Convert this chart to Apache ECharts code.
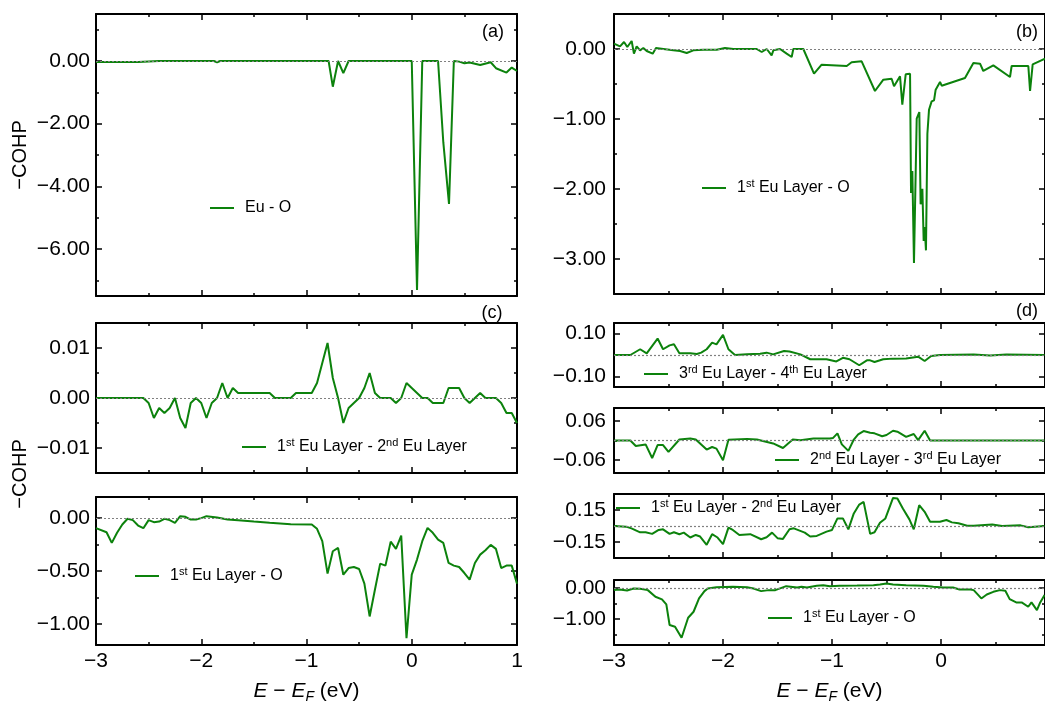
<!DOCTYPE html>
<html>
<head>
<meta charset="utf-8">
<title>COHP</title>
<script src="https://cdn.jsdelivr.net/npm/echarts@6/dist/echarts.min.js"></script>
<style>
  html, body { margin: 0; padding: 0; background: #fff; }
  #chart { width: 1045px; height: 702px; }
</style>
</head>
<body>
<div id="chart"></div>
<script>
// ---- data (E - E_F in eV, -COHP) ----
var aE = [-3, -2.6, -2.4, -1.88, -1.85, -1.82, -0.79, -0.75, -0.70, -0.65, -0.60, 0.0, 0.05, 0.10, 0.25, 0.30, 0.354, 0.40, 0.45, 0.50, 0.55, 0.65, 0.75, 0.80, 0.90, 0.95, 1.0];
var aV = [-0.03, -0.03, 0, 0, -0.04, 0, 0, -0.82, 0, -0.39, 0, 0, -7.31, 0, 0, -2.6, -4.56, 0, -0.02, -0.07, -0.05, -0.13, -0.04, -0.23, -0.37, -0.21, -0.32];

var bE = [-3.0, -2.945, -2.908, -2.878, -2.838, -2.817, -2.792, -2.761, -2.731, -2.70, -2.645, -2.615, -2.547, -2.456, -2.394, -2.333, -2.272, -2.18, -2.058, -1.982, -1.905, -1.783, -1.691, -1.645, -1.599, -1.554, -1.538, -1.477, -1.416, -1.37, -1.355, -1.263, -1.165, -1.095, -0.865, -0.82, -0.728, -0.606, -0.529, -0.453, -0.431, -0.376, -0.355, -0.324, -0.284, -0.275, -0.263, -0.248, -0.223, -0.211, -0.199, -0.187, -0.171, -0.159, -0.15, -0.138, -0.125, -0.11, -0.086, -0.064, -0.049, -0.009, 0.006, 0.22, 0.297, 0.358, 0.388, 0.48, 0.633, 0.648, 0.801, 0.817, 0.841, 0.954];
var bV = [0.076, 0.038, 0.1, 0.029, 0.114, -0.067, 0.038, -0.019, 0.014, -0.029, -0.067, 0.014, 0, -0.019, -0.029, -0.057, -0.019, -0.01, -0.01, 0.014, 0, 0, 0, -0.043, 0, -0.09, -0.019, 0, -0.067, -0.114, 0, 0, -0.352, -0.224, -0.243, -0.19, -0.176, -0.6, -0.438, -0.424, -0.533, -0.39, -0.795, -0.362, -0.352, -2.057, -1.743, -3.057, -0.995, -1.019, -0.9, -2.219, -1.995, -2.743, -2.543, -2.876, -1.21, -0.867, -0.748, -0.733, -0.581, -0.471, -0.524, -0.414, -0.2, -0.21, -0.314, -0.233, -0.4, -0.243, -0.243, -0.6, -0.219, -0.138];

var c1E = [-3, -2.55, -2.5, -2.45, -2.4, -2.35, -2.3, -2.25, -2.2, -2.15, -2.1, -2.05, -2.0, -1.95, -1.9, -1.85, -1.8, -1.75, -1.7, -1.65, -1.35, -1.3, -1.15, -1.1, -0.95, -0.9, -0.85, -0.8, -0.75, -0.7, -0.65, -0.6, -0.55, -0.5, -0.45, -0.4, -0.35, -0.3, -0.2, -0.15, -0.1, -0.05, 0, 0.05, 0.1, 0.15, 0.2, 0.3, 0.35, 0.45, 0.5, 0.55, 0.65, 0.7, 0.8, 0.85, 0.9, 0.95, 1.0];
var c1V = [0, 0, -0.001, -0.004, -0.002, -0.003, -0.002, 0, -0.004, -0.006, -0.001, 0, -0.001, -0.004, -0.001, 0, 0.003, 0, 0.002, 0.001, 0.001, 0, 0, 0.001, 0.001, 0.003, 0.007, 0.011, 0.004, 0, -0.005, -0.002, -0.001, 0, 0.002, 0.005, 0.001, 0, 0, -0.001, 0, 0.003, 0.002, 0.001, 0, 0, -0.001, -0.001, 0.002, 0.002, 0, -0.001, 0.001, 0, 0, -0.001, -0.003, -0.003, -0.005];

var c2E = [-3, -2.9, -2.85, -2.8, -2.75, -2.7, -2.65, -2.6, -2.55, -2.5, -2.45, -2.4, -2.35, -2.3, -2.25, -2.2, -2.15, -2.1, -2.05, -2.0, -1.95, -1.85, -1.75, -1.65, -1.5, -1.35, -1.15, -0.95, -0.9, -0.85, -0.8, -0.75, -0.7, -0.65, -0.6, -0.55, -0.5, -0.45, -0.4, -0.35, -0.3, -0.25, -0.2, -0.15, -0.1, -0.05, 0, 0.05, 0.1, 0.15, 0.2, 0.25, 0.3, 0.35, 0.4, 0.45, 0.5, 0.55, 0.6, 0.65, 0.7, 0.75, 0.8, 0.85, 0.9, 0.95, 1.0];
var c2V = [-0.095, -0.133, -0.234, -0.139, -0.06, -0.006, -0.019, -0.07, -0.095, -0.019, -0.038, -0.032, -0.006, -0.019, -0.044, 0.019, 0.013, -0.013, -0.013, 0, 0.019, 0.006, -0.013, -0.019, -0.032, -0.044, -0.057, -0.06, -0.101, -0.218, -0.525, -0.313, -0.282, -0.535, -0.472, -0.462, -0.481, -0.62, -0.93, -0.677, -0.43, -0.449, -0.222, -0.291, -0.165, -1.136, -0.535, -0.392, -0.218, -0.092, -0.139, -0.203, -0.234, -0.424, -0.449, -0.462, -0.519, -0.582, -0.424, -0.345, -0.304, -0.253, -0.291, -0.472, -0.449, -0.449, -0.62];

var d1E = [-3, -2.85, -2.76, -2.70, -2.60, -2.55, -2.49, -2.45, -2.40, -2.30, -2.24, -2.20, -2.15, -2.10, -2.06, -2.00, -1.95, -1.89, -1.78, -1.66, -1.60, -1.54, -1.44, -1.39, -1.29, -1.20, -1.05, -0.96, -0.90, -0.84, -0.75, -0.68, -0.65, -0.61, -0.53, -0.44, -0.32, -0.21, -0.15, -0.09, -0.01, 0.30, 0.45, 0.60, 0.95];
var d1V = [0, 0, 0.027, 0.008, 0.077, 0.027, 0.045, 0.05, 0.008, 0.008, 0.005, 0.011, 0.027, 0.058, 0.05, 0.094, 0.027, 0, 0.003, 0.006, 0.011, 0.003, 0.019, 0.016, 0.003, -0.02, -0.02, -0.03, -0.013, -0.02, -0.048, -0.025, -0.025, -0.033, -0.02, -0.017, -0.016, -0.008, -0.028, -0.005, 0, 0.002, -0.002, 0.002, 0];

var d2E = [-3, -2.85, -2.80, -2.71, -2.65, -2.60, -2.55, -2.50, -2.40, -2.30, -2.25, -2.15, -2.10, -2.06, -2.00, -1.95, -1.78, -1.69, -1.54, -1.45, -1.36, -1.29, -1.17, -1.02, -0.99, -0.95, -0.91, -0.85, -0.80, -0.76, -0.71, -0.65, -0.61, -0.54, -0.50, -0.44, -0.40, -0.32, -0.25, -0.21, -0.15, -0.10, 0.95];
var d2V = [0, 0, -0.017, -0.012, -0.054, -0.014, -0.014, -0.035, 0.003, 0.006, 0.003, -0.028, -0.02, -0.025, -0.061, 0.002, 0.005, 0.003, -0.009, -0.023, 0.003, 0.001, 0.006, 0.006, 0.008, 0.022, -0.012, -0.032, 0.003, 0.019, 0.029, 0.024, 0.022, 0.013, 0.017, 0.03, 0.027, 0.011, 0.02, 0.001, 0.03, 0, 0];

var d3E = [-3, -2.89, -2.84, -2.76, -2.71, -2.65, -2.59, -2.55, -2.49, -2.45, -2.40, -2.36, -2.30, -2.25, -2.21, -2.15, -2.10, -2.05, -2.00, -1.95, -1.91, -1.85, -1.75, -1.65, -1.60, -1.55, -1.50, -1.45, -1.39, -1.35, -1.25, -1.20, -1.14, -1.05, -1.00, -0.95, -0.90, -0.85, -0.80, -0.75, -0.71, -0.65, -0.61, -0.56, -0.51, -0.44, -0.40, -0.35, -0.29, -0.25, -0.20, -0.15, -0.10, -0.01, 0.05, 0.10, 0.16, 0.24, 0.30, 0.47, 0.56, 0.73, 0.80, 0.86, 0.95];
var d3V = [0, -0.006, -0.022, -0.059, -0.059, -0.074, -0.037, -0.031, -0.074, -0.059, -0.077, -0.062, -0.108, -0.084, -0.099, -0.176, -0.077, -0.108, -0.17, -0.015, -0.037, -0.084, -0.077, -0.124, -0.105, -0.062, -0.114, -0.121, -0.031, -0.022, -0.062, -0.099, -0.093, -0.053, -0.037, 0.071, 0.071, -0.031, 0.118, 0.201, 0.226, -0.074, -0.059, 0.031, 0.071, 0.263, 0.257, 0.164, 0.062, -0.031, 0.195, 0.133, 0.04, 0.04, 0.056, 0.034, 0.025, 0.003, 0.003, 0.015, 0, 0.006, -0.012, -0.006, 0];

var d4E = [-3, -2.95, -2.88, -2.82, -2.76, -2.69, -2.62, -2.56, -2.52, -2.49, -2.44, -2.38, -2.32, -2.27, -2.22, -2.17, -2.14, -2.06, -1.91, -1.78, -1.72, -1.65, -1.58, -1.52, -1.42, -1.32, -1.28, -1.23, -1.14, -1.08, -1.02, -0.93, -0.77, -0.62, -0.56, -0.50, -0.44, -0.32, -0.16, -0.07, 0.02, 0.11, 0.17, 0.27, 0.30, 0.37, 0.42, 0.48, 0.54, 0.59, 0.63, 0.69, 0.74, 0.80, 0.83, 0.88, 0.91, 0.95];
var d4V = [-0.074, -0.053, -0.085, -0.021, -0.032, -0.074, -0.287, -0.372, -0.532, -1.191, -1.245, -1.596, -0.957, -0.766, -0.34, -0.106, -0.021, 0.021, 0.032, 0.021, -0.021, -0.106, -0.074, -0.074, 0.053, 0.011, 0.032, 0.011, 0.064, 0.085, 0.053, 0.064, 0.074, 0.085, 0.106, 0.138, 0.106, 0.085, 0.064, 0.032, 0.011, 0.011, -0.053, -0.053, -0.074, -0.34, -0.213, -0.128, -0.074, -0.096, -0.362, -0.468, -0.468, -0.606, -0.468, -0.713, -0.468, -0.234];

var xMajorL = [-3, -2, -1, 0, 1];
var xMajorR = [-3, -2, -1, 0];
var xMinor = [-2.5, -1.5, -0.5, 0.5];

// ---- layout of the eight panels ----
var green = '#0c820c';
var font = '"Liberation Sans", Arial, Helvetica, sans-serif';

var panels = [
    { key: 'a', E: aE, V: aV, box: [96, 14, 421, 282], xMax: 1, y: [-7.5, 1.5], yMajor: [0, -2, -4, -6], yMinor: [1, -1, -3, -5, -7], margin: 6, legend: [210, 198], label: 'Eu - O' },
    { key: 'b', E: bE, V: bV, box: [614, 14, 431, 280], xMax: 0.954, y: [-3.5, 0.5], yMajor: [0, -1, -2, -3], yMinor: [-0.5, -1.5, -2.5], margin: 8, legend: [702, 178], label: '1{sup|st} Eu Layer - O' },
    { key: 'c1', E: c1E, V: c1V, box: [96, 323, 421, 150], xMax: 1, y: [-0.015, 0.015], yMajor: [0.01, 0, -0.01], yMinor: [0.005, -0.005], margin: 6, legend: [242, 437], label: '1{sup|st} Eu Layer - 2{sup|nd} Eu Layer' },
    { key: 'c2', E: c2E, V: c2V, box: [96, 497, 421, 148], xMax: 1, y: [-1.2, 0.2], yMajor: [0, -0.5, -1], yMinor: [-0.25, -0.75], margin: 6, legend: [135, 566], label: '1{sup|st} Eu Layer - O', xLabels: true },
    { key: 'd1', E: d1E, V: d1V, box: [614, 323, 431, 64], xMax: 0.954, y: [-0.15, 0.15], yMajor: [0.1, -0.1], yMinor: [0], margin: 8, legend: [644, 364], label: '3{sup|rd} Eu Layer - 4{sup|th} Eu Layer' },
    { key: 'd2', E: d2E, V: d2V, box: [614, 408, 431, 65], xMax: 0.954, y: [-0.1, 0.1], yMajor: [0.06, -0.06], yMinor: [0], margin: 8, legend: [775, 450], label: '2{sup|nd} Eu Layer - 3{sup|rd} Eu Layer' },
    { key: 'd3', E: d3E, V: d3V, box: [614, 494, 431, 64], xMax: 0.954, y: [-0.3, 0.3], yMajor: [0.15, -0.15], yMinor: [0], margin: 8, legend: [616, 498], label: '1{sup|st} Eu Layer - 2{sup|nd} Eu Layer' },
    { key: 'd4', E: d4E, V: d4V, box: [614, 580, 431, 65], xMax: 0.954, y: [-1.83, 0.25], yMajor: [0, -1], yMinor: [-0.5, -1.5], margin: 8, legend: [768, 608], label: '1{sup|st} Eu Layer - O', xLabels: true }
];

function fmt(dec) {
    return function (v) {
        return (v < 0 ? '\u2212' : '') + Math.abs(v).toFixed(dec);
    };
}

function makeAxis(gi, pos, range, ticks, len, showLine, labels, formatter, margin) {
    return {
        type: 'value', gridIndex: gi, position: pos, min: range[0], max: range[1],
        axisLine: { show: showLine, onZero: false, lineStyle: { color: '#000', width: 2 } },
        axisTick: { show: true, inside: true, length: len, customValues: ticks, lineStyle: { color: '#000', width: 1.5 } },
        axisLabel: labels ? { show: true, customValues: labels, formatter: formatter, margin: margin, color: '#000', fontSize: 21, fontFamily: font } : { show: false },
        splitLine: { show: false },
        minorTick: { show: false }
    };
}

var grids = [], xAxes = [], yAxes = [], series = [], legends = [];

panels.forEach(function (p, i) {
    grids.push({ left: p.box[0], top: p.box[1], width: p.box[2], height: p.box[3], containLabel: false, outerBoundsMode: 'none' });

    var xr = [-3, p.xMax];
    var xMaj = p.xMax >= 1 ? xMajorL : xMajorR;
    var xb = makeAxis(i, 'bottom', xr, xMaj, 6, true, p.xLabels ? xMaj : null, fmt(0), 6);
    if (p.xLabels) {
        xb.name = '{i|E} \u2212 {i|E}{s|F} (eV)';
        xb.nameLocation = 'middle';
        xb.nameGap = 33;
        xb.nameTextStyle = {
            color: '#000', fontSize: 21, fontFamily: font, lineHeight: 26,
            rich: {
                i: { fontStyle: 'italic', fontSize: 21, fontFamily: font, lineHeight: 26 },
                s: { fontStyle: 'italic', fontSize: 14, fontFamily: font, lineHeight: 14, verticalAlign: 'bottom' }
            }
        };
    }
    xAxes.push(xb);
    xAxes.push(makeAxis(i, 'bottom', xr, xMinor, 3, false));
    xAxes.push(makeAxis(i, 'top', xr, xMaj, 6, true));
    xAxes.push(makeAxis(i, 'top', xr, xMinor, 3, false));

    yAxes.push(makeAxis(i, 'left', p.y, p.yMajor, 6, true, p.yMajor, fmt(2), p.margin));
    yAxes.push(makeAxis(i, 'left', p.y, p.yMinor, 3, false));
    yAxes.push(makeAxis(i, 'right', p.y, p.yMajor, 6, true));
    yAxes.push(makeAxis(i, 'right', p.y, p.yMinor, 3, false));

    series.push({
        name: p.key, type: 'line', xAxisIndex: 4 * i, yAxisIndex: 4 * i,
        data: p.E.map(function (e, k) { return [e, p.V[k]]; }),
        symbol: 'none', showSymbol: false, clip: true, animation: false,
        lineStyle: { color: green, width: 2 }, itemStyle: { color: green },
        markLine: {
            silent: true, symbol: 'none', animation: false, label: { show: false },
            lineStyle: { color: '#808080', type: [2, 2], width: 1.2 },
            data: [{ yAxis: 0 }]
        }
    });

    legends.push({
        left: p.legend[0], top: p.legend[1], padding: 0, itemWidth: 24, itemHeight: 2,
        icon: 'rect', itemStyle: { color: green },
        data: [p.key], selectedMode: false,
        formatter: function () { return '{sp|}' + p.label; },
        textStyle: {
            color: '#000', fontSize: 16, fontFamily: font, lineHeight: 20,
            rich: {
                sp: { width: 6 },
                sup: { fontSize: 11, fontFamily: font, lineHeight: 10, verticalAlign: 'top', color: '#000' }
            }
        }
    });
});

var tags = [['(a)', 493, 32], ['(b)', 1027, 32], ['(c)', 492, 313], ['(d)', 1027, 311]];
var graphics = tags.map(function (t) {
    return { type: 'text', x: t[1], y: t[2], style: { text: t[0], fill: '#000', fontSize: 18, fontFamily: font, align: 'center', verticalAlign: 'middle' } };
});
[155, 474].forEach(function (cy) {
    graphics.push({ type: 'text', x: 20, y: cy, rotation: Math.PI / 2, style: { text: '\u2212COHP', fill: '#000', fontSize: 20, fontFamily: font, align: 'center', verticalAlign: 'middle' } });
});

var myChart = echarts.init(document.getElementById('chart'));
myChart.setOption({
    backgroundColor: '#fff',
    animation: false,
    grid: grids,
    xAxis: xAxes,
    yAxis: yAxes,
    legend: legends,
    series: series,
    graphic: graphics
});
</script>
</body>
</html>
